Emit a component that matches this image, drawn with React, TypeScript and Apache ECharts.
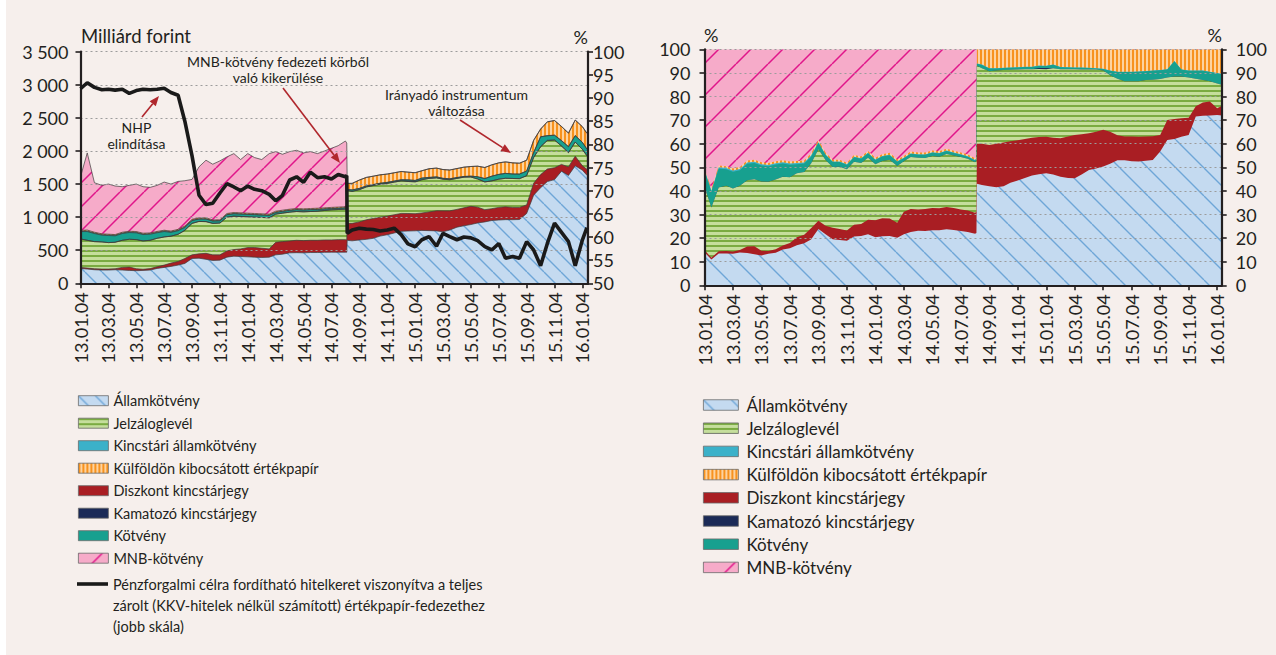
import React, { useEffect, useRef } from "react";
import * as echarts from "echarts";

// ---------------- DATA ----------------
const dates = [
  "2013-01-04","2013-01-19","2013-02-04","2013-02-19","2013-03-04","2013-03-19","2013-04-04","2013-04-19","2013-05-04","2013-05-19",
  "2013-06-04","2013-06-19","2013-07-04","2013-07-19","2013-08-04","2013-08-19","2013-09-04","2013-09-19","2013-10-04","2013-10-19",
  "2013-11-04","2013-11-19","2013-12-04","2013-12-19","2014-01-04","2014-01-19","2014-02-04","2014-02-19","2014-03-04","2014-03-19",
  "2014-04-04","2014-04-19","2014-05-04","2014-05-19","2014-06-04","2014-06-19","2014-07-04","2014-07-19","2014-08-04","2014-08-07",
  "2014-08-08","2014-08-19","2014-09-04","2014-09-19","2014-10-04","2014-10-19","2014-11-04","2014-11-19","2014-12-04","2014-12-19",
  "2015-01-04","2015-01-19","2015-02-04","2015-02-19","2015-03-04","2015-03-19","2015-04-04","2015-04-19","2015-05-04","2015-05-19",
  "2015-06-04","2015-06-19","2015-07-04","2015-07-19","2015-08-04","2015-08-19","2015-09-04","2015-09-19","2015-10-04","2015-10-19",
  "2015-11-04","2015-11-19","2015-12-04","2015-12-19","2016-01-04","2016-01-14"
];

// Milliárd forint
const allamkotveny = [
  225,215,205,200,200,205,200,195,190,195, 200,225,240,255,275,300,375,380,362,345,
  350,395,410,405,400,395,390,395,430,440, 460,463,460,465,465,468,470,470,470,470,
  649,642,655,664,680,713,734,760,786,790, 793,799,796,792,779,804,848,869,888,912,
  928,949,956,962,961,964,1055,1331,1445,1537, 1567,1695,1630,1776,1709,1632
];
const diszkont = [
  15,15,15,15,15,15,40,50,30,17, 22,25,35,50,55,75,55,65,91,85,
  80,95,100,115,140,145,140,125,190,190, 180,187,185,185,185,187,185,190,190,190,
  257,264,273,296,300,287,281,276,270,265, 259,264,282,305,316,291,269,272,275,239,
  184,179,191,194,186,183,130,181,198,190, 180,102,129,145,66,91
];
const jelzaloglevel = [
  430,420,410,410,400,400,410,420,440,428, 428,430,425,407,410,425,475,490,479,475,
  480,510,505,490,465,460,465,470,425,430, 435,435,435,435,440,445,455,455,460,460,
  498,483,487,496,497,497,494,493,492,484, 478,502,507,496,478,470,468,463,443,425,
  420,420,426,431,437,434,441,389,420,432, 418,277,216,213,248,204
];
const kamatozo = [
  0,0,0,0,0,0,0,0,0,0, 0,0,0,0,0,0,0,0,0,0,
  0,0,0,0,0,0,0,0,0,0, 0,0,0,0,0,0,0,0,0,0,
  0,0,0,0,0,0,0,0,0,8, 8,0,0,0,0,0,0,0,0,0,
  0,0,0,0,0,0,0,0,0,0, 0,0,0,0,0,0
];
const kotveny = [
  112,132,122,102,107,97,102,102,102,97, 92,84,82,58,54,44,43,36,39,36,
  34,36,36,36,36,36,36,36,26,26, 26,26,26,26,26,21,18,18,18,18,
  13,21,18,14,14,14,15,15,15,15, 15,24,14,14,12,13,12,9,12,33,
  50,70,72,73,67,69,69,74,150,71, 72,81,89,97,105,100
];
const kincstari = [
  8,8,8,8,8,8,8,8,8,8, 8,8,8,8,8,8,4,4,4,4,
  4,4,4,4,4,4,4,4,4,4, 4,4,4,4,4,4,4,4,4,4,
  2,2,2,2,2,2,2,2,2,2, 2,2,2,2,2,2,2,2,2,2,
  2,2,2,2,2,2,2,2,2,2, 2,2,2,2,2,2
];
const kulfoldon = [
  10,15,12,12,12,12,12,12,12,12, 12,12,12,12,13,14,15,15,15,13,
  12,15,15,15,15,15,15,15,15,15, 15,15,15,15,15,15,15,15,15,15,
  91,98,125,128,126,126,125,124,125,116, 116,110,130,132,132,132,135,140,145,159,
  166,170,173,173,167,163,163,183,116,208, 221,213,204,234,237,238
];
const mnbKotveny = [
  810,1165,748,733,758,733,688,693,718,703, 688,696,728,710,725,684,603,770,870,842,
  890,855,890,805,900,845,820,915,900,845, 870,880,845,860,825,860,893,928,993,963,
  0,0,0,0,0,0,0,0,0,0, 0,0,0,0,0,0,0,0,0,0,
  0,0,0,0,0,0,0,0,0,0, 0,0,0,0,0,0
];
// % (jobb skála)
const hitelkeretArany = [
  92.0,93.3,92.3,91.8,91.9,91.7,91.9,91.0,91.6,91.9, 91.8,91.9,92.1,91.2,90.6,85.0,77.5,69.0,67.0,67.3,
  69.5,71.5,70.8,70.0,71.0,70.3,70.0,69.2,67.8,69.0, 72.3,73.0,71.8,74.0,72.8,73.0,72.5,73.5,73.0,73.2,
  60.8,61.5,61.9,61.7,61.6,61.3,61.5,61.9,60.5,58.5, 57.9,59.4,60.1,58.0,60.8,60.1,59.4,60.0,59.8,59.2,
  57.9,57.2,58.6,55.4,55.8,55.4,59.0,57.2,53.8,58.6, 63.0,61.0,59.0,53.8,59.4,62.0
];

const xTickLabels = [
  "13.01.04","13.03.04","13.05.04","13.07.04","13.09.04","13.11.04","14.01.04","14.03.04","14.05.04","14.07.04",
  "14.09.04","14.11.04","15.01.04","15.03.04","15.05.04","15.07.04","15.09.04","15.11.04","16.01.04"
];

const N_ALLAM = "Államkötvény";
const N_JELZ = "Jelzáloglevél";
const N_KINCS = "Kincstári államkötvény";
const N_KULF = "Külföldön kibocsátott értékpapír";
const N_DISZ = "Diszkont kincstárjegy";
const N_KAM = "Kamatozó kincstárjegy";
const N_KOTV = "Kötvény";
const N_MNB = "MNB-kötvény";
const N_LINE = "Pénzforgalmi célra fordítható hitelkeret viszonyítva a teljes zárolt (KKV-hitelek nélkül számított) értékpapír-fedezethez (jobb skála)";
const legendOrder = [N_ALLAM, N_JELZ, N_KINCS, N_KULF, N_DISZ, N_KAM, N_KOTV, N_MNB];

// ---------------- HELPERS ----------------
// position on the x axis in months since 2013-01-04 (the axis is linear in months)
function monthIndex(d: string) {
  const [y, mo, da] = d.split("-").map(Number);
  const dim = new Date(y, mo, 0).getDate();
  return (y - 2013) * 12 + (mo - 1) + (da - 4) / dim;
}

function hatchTile(size: number, bg: string, fg: string, lw: number, dir: "back" | "fwd") {
  const c = document.createElement("canvas");
  c.width = size; c.height = size;
  const g = c.getContext("2d")!;
  g.fillStyle = bg; g.fillRect(0, 0, size, size);
  g.strokeStyle = fg; g.lineWidth = lw;
  g.beginPath();
  for (let k = -1; k <= 1; k++) {
    if (dir === "back") { g.moveTo(k * size, 0); g.lineTo(k * size + size, size); }
    else { g.moveTo(k * size, size); g.lineTo(k * size + size, 0); }
  }
  g.stroke();
  return { image: c.toDataURL(), repeat: "repeat", imageWidth: size, imageHeight: size } as any;
}
function stripeTile(period: number, thick: number, bg: string, fg: string, horizontal: boolean) {
  const c = document.createElement("canvas");
  c.width = horizontal ? 8 : period; c.height = horizontal ? period : 8;
  const g = c.getContext("2d")!;
  g.fillStyle = bg; g.fillRect(0, 0, c.width, c.height);
  g.fillStyle = fg;
  if (horizontal) g.fillRect(0, 0, c.width, thick); else g.fillRect(0, 0, thick, c.height);
  return { image: c.toDataURL(), repeat: "repeat", imageWidth: c.width, imageHeight: c.height } as any;
}

function arrow(x1: number, y1: number, x2: number, y2: number, color: string) {
  const dx = x2 - x1, dy = y2 - y1, len = Math.hypot(dx, dy);
  const ux = dx / len, uy = dy / len, px = -uy, py = ux;
  const hl = 10, hw = 4;
  const bx = x2 - ux * hl, by = y2 - uy * hl;
  return [
    { type: "line", shape: { x1, y1, x2: bx, y2: by }, style: { stroke: color, lineWidth: 1.6 }, z: 20 },
    { type: "polygon", shape: { points: [[x2, y2], [bx + px * hw, by + py * hw], [bx - px * hw, by - py * hw]] }, style: { fill: color }, z: 20 },
  ];
}

function buildOption() {
  const xs = dates.map(monthIndex);
  const totals = dates.map((_, i) =>
    allamkotveny[i] + diszkont[i] + jelzaloglevel[i] + kamatozo[i] + kotveny[i] + kincstari[i] + kulfoldon[i] + mnbKotveny[i]);

  const FONT = "Lato";
  const TXT = "#231f20";

  const patL = {
    allam: hatchTile(17, "#c4daf0", "#6ea6d7", 1.4, "back"),
    mnb: hatchTile(24, "#f6abc9", "#e0168a", 1.5, "fwd"),
    jelz: stripeTile(5, 2, "#c5de9c", "#7aab41", true),
    kulf: stripeTile(4, 2, "#fdd3a0", "#f7921e", false),
  };
  const patR = {
    allam: hatchTile(28, "#c4daf0", "#6ea6d7", 1.4, "back"),
    mnb: hatchTile(32, "#f6abc9", "#e0168a", 1.5, "fwd"),
    jelz: stripeTile(5, 2, "#c5de9c", "#7aab41", true),
    kulf: stripeTile(4, 2, "#fdd3a0", "#f7921e", false),
  };

  // stacking order, bottom to top
  const stackDefs = [
    { name: N_ALLAM, data: allamkotveny, key: "allam" },
    { name: N_DISZ, data: diszkont, color: "#a91e23" },
    { name: N_JELZ, data: jelzaloglevel, key: "jelz" },
    { name: N_KAM, data: kamatozo, color: "#1b2a57" },
    { name: N_KOTV, data: kotveny, color: "#17a08f" },
    { name: N_KINCS, data: kincstari, color: "#3bb1c9" },
    { name: N_KULF, data: kulfoldon, key: "kulf" },
    { name: N_MNB, data: mnbKotveny, key: "mnb" },
  ];
  // cumulative tops (stack), drawn top layer first so lower layers cover them
  const cum: number[][] = [];
  let run = dates.map(() => 0);
  stackDefs.forEach((d) => { run = run.map((v, i) => v + d.data[i]); cum.push(run.slice()); });

  const fillOf = (d: any, pats: any) => (d.key ? pats[d.key] : d.color);

  const leftSeries: any[] = [];
  const rightSeries: any[] = [];
  for (let k = stackDefs.length - 1; k >= 0; k--) {
    const d = stackDefs[k];
    leftSeries.push({
      type: "line", name: d.name, xAxisIndex: 0, yAxisIndex: 0,
      data: cum[k].map((v, i) => [xs[i], v]), symbol: "none", showSymbol: false, silent: true,
      lineStyle: { width: 0.7, color: "#3c3c3c" },
      itemStyle: { color: fillOf(d, patL) },
      areaStyle: { color: fillOf(d, patL), opacity: 1, origin: "start" },
      emphasis: { disabled: true }, z: 2,
    });
    rightSeries.push({
      type: "line", name: d.name, xAxisIndex: 1, yAxisIndex: 2,
      data: cum[k].map((v, i) => [xs[i], (v / totals[i]) * 100]), symbol: "none", showSymbol: false, silent: true,
      lineStyle: { width: 0, opacity: 0 },
      itemStyle: { color: fillOf(d, patR) },
      areaStyle: { color: fillOf(d, patR), opacity: 1, origin: "start" },
      emphasis: { disabled: true }, z: 2,
    });
  }
  const lineSeries = {
    type: "line", name: N_LINE, xAxisIndex: 0, yAxisIndex: 1, data: hitelkeretArany.map((v, i) => [xs[i], v]),
    symbol: "none", showSymbol: false, silent: true,
    lineStyle: { width: 3.6, color: "#1a1a1a" }, itemStyle: { color: "#1a1a1a" },
    emphasis: { disabled: true }, z: 6,
  };

  const iconStyle = (name: string, pats: any) => {
    const d = stackDefs.find((s) => s.name === name)!;
    return { name, icon: "rect", itemStyle: { color: fillOf(d, pats), borderColor: "#6a6a6a", borderWidth: 0.8 } };
  };

  const tickVals = xTickLabels.map((_, i) => i * 2);
  const xLabel = (v: number) => xTickLabels[Math.round(v / 2)] ?? "";
  const axisLineStyle = { color: TXT, width: 2.2 };
  const gridLine = { show: true, lineStyle: { color: "#9c9c9c", width: 1.1, type: [2, 3] } };
  const thousands = (v: number) => (v >= 1000 ? `${Math.floor(v / 1000)} ${String(v % 1000).padStart(3, "0")}` : String(v));

  const xAxisBase = (gridIndex: number, max: number) => ({
    type: "value", gridIndex, min: 0, max, z: 3,
    axisLine: { show: true, lineStyle: axisLineStyle, onZero: false },
    axisTick: { show: true, length: 5, customValues: tickVals, lineStyle: { color: TXT, width: 1.6 } },
    axisLabel: { customValues: tickVals, rotate: 90, formatter: xLabel, fontFamily: FONT, fontSize: 18, color: TXT, margin: 9 },
    splitLine: { show: false },
  });

  const yAxisBase = (gridIndex: number, position: string, min: number, max: number, interval: number, margin: number, split: boolean, fmt?: any) => ({
    type: "value", gridIndex, position, min, max, interval, z: 3,
    axisLine: { show: true, lineStyle: axisLineStyle },
    axisTick: { show: true, length: 5, lineStyle: { color: TXT, width: 1.6 } },
    axisLabel: { fontFamily: FONT, fontSize: 18, color: TXT, margin, formatter: fmt },
    splitLine: split ? gridLine : { show: false },
  });

  const red = "#b0272d";
  const txt = (text: string, x: number, y: number, size: number, align: string, lh?: number) => ({
    type: "text", x, y, z: 20,
    style: { text, fill: TXT, fontFamily: FONT, fontSize: size, align, verticalAlign: "middle", lineHeight: lh ?? size * 1.2 },
  });

  return {
    animation: false,
    backgroundColor: "transparent",
    grid: [
      { left: 80.5, top: 51.7, width: 507.5, height: 231.6 },
      { left: 704.5, top: 49.3, width: 517.2, height: 236 },
    ],
    xAxis: [xAxisBase(0, 36.4), xAxisBase(1, 36.32)],
    yAxis: [
      yAxisBase(0, "left", 0, 3500, 500, 12, true, thousands),
      yAxisBase(0, "right", 50, 100, 5, 5, false),
      yAxisBase(1, "left", 0, 100, 10, 14, true),
      yAxisBase(1, "right", 0, 100, 10, 14, false),
    ],
    legend: [
      {
        orient: "vertical", left: 78, top: 391.7, padding: 0, itemWidth: 30, itemHeight: 10, itemGap: 4.5,
        textStyle: { fontFamily: FONT, fontSize: 14.5, color: TXT, lineHeight: 18 },
        selectedMode: false, data: legendOrder.map((n) => iconStyle(n, patL)),
      },
      {
        orient: "vertical", left: 703, top: 395, padding: 0, itemWidth: 35, itemHeight: 10.5, itemGap: 3.2,
        textStyle: { fontFamily: FONT, fontSize: 17, color: TXT, lineHeight: 20, padding: [0, 0, 0, 3] },
        selectedMode: false, data: legendOrder.map((n) => iconStyle(n, patR)),
      },
    ],
    graphic: [
      txt("Milliárd forint", 81, 35.5, 18.5, "left"),
      txt("%", 588, 36.5, 18, "right"),
      txt("%", 704, 35, 18, "left"),
      txt("%", 1222, 35, 18, "right"),
      txt("MNB-kötvény fedezeti körből\nvaló kikerülése", 278, 69, 14, "center", 16),
      txt("Irányadó instrumentum\nváltozása", 456.5, 102, 14, "center", 16),
      txt("NHP\nelindítása", 136.5, 135, 14, "center", 16),
      ...arrow(142, 117, 159, 96, red),
      ...arrow(283, 88, 340, 163, red),
      ...arrow(460, 120, 511, 153, red),
      { type: "line", shape: { x1: 77, y1: 584, x2: 108, y2: 584 }, style: { stroke: "#1a1a1a", lineWidth: 3.6 }, z: 20 },
      {
        type: "text", x: 113, y: 573.4, z: 20,
        style: {
          text: "Pénzforgalmi célra fordítható hitelkeret viszonyítva a teljes\nzárolt (KKV-hitelek nélkül számított) értékpapír-fedezethez\n(jobb skála)",
          fill: TXT, fontFamily: FONT, fontSize: 14.5, lineHeight: 21.3, align: "left", verticalAlign: "top",
        },
      },
    ],
    series: [...leftSeries, lineSeries, ...rightSeries],
  };
}

const W = 1276, H = 655;

export default function App() {
  const ref = useRef<HTMLDivElement>(null);
  useEffect(() => {
    if (!ref.current) return;
    const chart = echarts.init(ref.current, null, { renderer: "svg", width: W, height: H });
    chart.setOption(buildOption() as any);
    return () => chart.dispose();
  }, []);
  return (
    <div style={{ position: "fixed", left: 0, top: 0, width: W, height: H, background: "#ffffff" }}>
      <div style={{ position: "absolute", left: 6, top: 0, right: 0, bottom: 0, background: "#f6efec" }} />
      <div ref={ref} style={{ position: "absolute", left: 0, top: 0, width: W, height: H }} />
    </div>
  );
}
